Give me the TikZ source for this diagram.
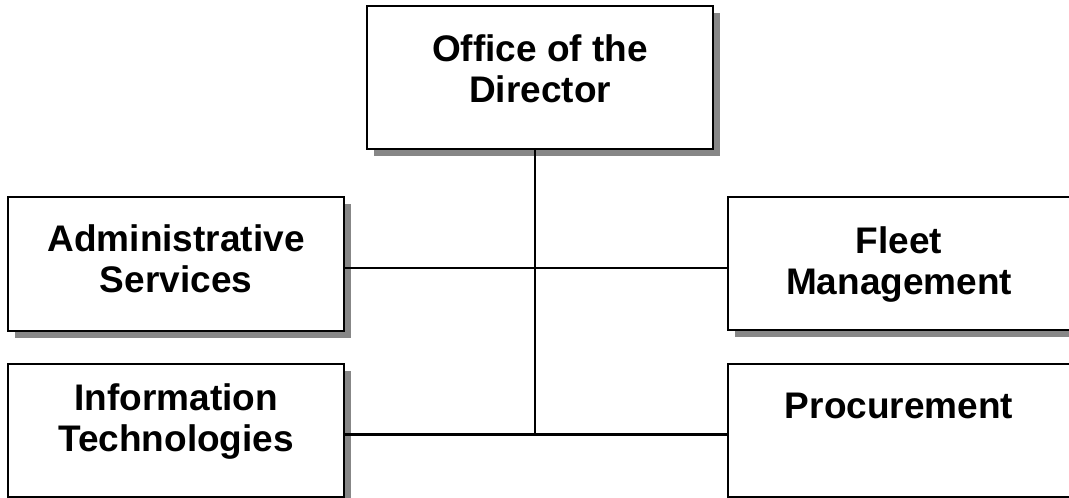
\documentclass[tikz,border=0pt]{standalone}
\usepackage{fontspec}
\setmainfont{Liberation Sans}
\usetikzlibrary{positioning,shadows}
\definecolor{shadowgray}{HTML}{878787}
\tikzset{
        unit/.style = {draw, rectangle, line width=2.2pt, fill=white,
            anchor=north west, inner sep=0pt,
            drop shadow={shadow xshift=7pt, shadow yshift=-7pt,
                fill=shadowgray, opacity=1}},
        caption/.style = {align=center, inner sep=0pt,
            font=\bfseries\fontsize{37}{41}\selectfont},
        link/.style = {draw, line width=2pt},
    }

\begin{document}
\begin{tikzpicture}[x=1pt,y=-1pt]
    \useasboundingbox (0,0) rectangle (1069,498);

    \node[unit, minimum width=346pt, minimum height=143pt] (director) at (366,5) {};
    \node[unit, minimum width=336pt, minimum height=134pt] (admin) at (7,196) {};
    \node[unit, minimum width=346pt, minimum height=133pt] (fleet) at (727,196) {};
    \node[unit, minimum width=336pt, minimum height=133pt] (info) at (7,363) {};
    \node[unit, minimum width=346pt, minimum height=133pt] (procure) at (727,363) {};

    \node[caption, below=29pt of director.north] (directortext) {Office of the\\Director};
    \node[caption, below=28pt of admin.north] (admintext) {Administrative\\Services};
    \node[caption, below=30pt of fleet.north, xshift=-2pt] (fleettext) {Fleet\\Management};
    \node[caption, below=20pt of info.north] (infotext) {Information\\Technologies};
    \node[caption, below=30pt of procure.north, xshift=-2pt] (procuretext) {Procurement};

    \coordinate (tie) at (535,268);
    \coordinate (spine) at (535,434);
    \draw[link, line width=2.4pt] (director.south -| spine) -- (spine);
    \draw[link] (admin.east |- tie) -- (fleet.west |- tie);
    \draw[link, line width=3pt] (info.east |- spine) -- (procure.west |- spine);
\end{tikzpicture}
\end{document}
